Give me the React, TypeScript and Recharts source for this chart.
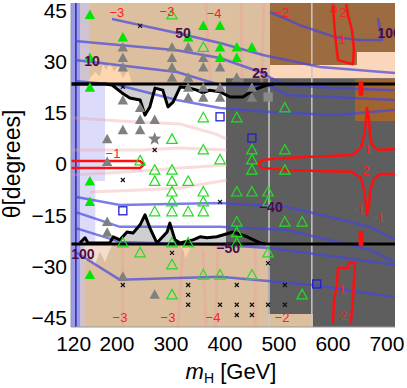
import React from 'react'
import { ComposedChart, XAxis, YAxis, Line, Area, Scatter } from 'recharts'

const FONT = '"Liberation Sans", Arial, sans-serif'

type P = [number, number]
type Rect = [number, number, number, number] // m1, m2, θ1, θ2

const massTicks = [120, 200, 300, 400, 500, 600, 700]
const angleTicks = [-45, -30, -15, 0, 15, 30, 45]

// shaded regions
const tanRegions: Rect[] = [[131.7, 402, 23.4, 47.1], [402, 483.5, 25.1, 47.1], [131.7, 480, -47.7, -23.4], [480, 563, -47.7, -43.9]]
const brownRegions: Rect[] = [[483.5, 644.6, 28.9, 47.1], [644.6, 715, 32.7, 47.1]]
const peachRegions: Rect[] = [[483.5, 644.6, 24.9, 28.9], [644.6, 715, 24.9, 32.7]]
const grayRegions: Rect[] = [[402, 715, -23.4, 25.1], [480, 715, -43.9, -23.4], [563, 715, -47.7, -43.9]]
const orangeRegions: Rect[] = [[641, 715, 12.6, 24.9]]
const lavenderStrong: Rect[] = [[115, 131.7, -47.7, 47.1]]
const lavenderSoft: Rect[] = [[131.7, 178, -5, 23.4], [131.7, 160, -23.4, -5], [131.7, 150, 23.4, 47.1], [131.7, 140, -47.7, -23.4]]

// wiggly exclusion boundaries
const upperWiggle: P[] = [[115, 23.4], [178, 23.4], [191, 23.1], [209.5, 20.8], [224, 19.3], [243, 18.7], [252, 14.3], [261, 16.7], [270.6, 22.2], [285, 21.6], [294.6, 16.7], [304, 18.1], [317, 22.5], [335, 22.2], [348, 21.6], [359.5, 20.8], [372, 21.6], [391, 21.1], [409.5, 19.6], [433.5, 19.6], [452, 21.6], [478, 23.1], [490, 23.4]]
const lowerWiggle: P[] = [[131.7, -23.1], [141, -21.6], [146.5, -23.1], [187, -23.1], [193, -21.3], [205.7, -22.2], [218.7, -19.9], [230, -20.2], [243, -17.8], [252, -14.9], [261, -18.7], [274, -23.1], [293, -19.9], [298, -17.3], [307.6, -22.2], [317, -23.1], [341, -22.2], [354, -21.3], [367, -21.6], [385, -21.3], [415, -19.9], [441, -21.3], [465, -23.1], [475, -23.4]]
const upperLimit: P[] = [[115, 23.4], [715, 23.4]]
const lowerLimit: P[] = [[115, -23.4], [715, -23.4]]

const peachSpikesTop: P[] = [[141, 23.4], [150, 25.1], [159.4, 26.9], [168.7, 25.7], [174, 29.2], [180, 27.5], [187, 29.8], [194.6, 26.9], [202, 28.7], [211, 25.1], [220.6, 27.5], [228, 23.4]]
const paleSpikesBottom: P[] = [[135.4, -23.4], [141, -28.7], [150, -26.6], [159.4, -29.5], [168.7, -25.7], [178, -28.7], [187, -25.1], [193, -23.4]]
const peachNotch: P[] = [[317, -23.4], [328, -27.5], [339, -23.4]]

// faint contours
const pinkContours: P[][] = [
  [[115, 13.5], [205.7, 12.6], [317, 11.7], [382, 8.8], [404, 7.3]],
  [[115, 4.1], [243, 4.1], [317, 4.7], [404, 4.1]],
  [[115, -3.2], [224, -2.3], [317, -1.2], [404, -0.3]],
  [[150, -8.2], [243, -7.6], [317, -7], [404, -4.7]],
  [[365, 47.1], [368, 36], [374, 23.4]],
  [[430, 47.1], [432, 23.4]],
  [[472, 47.1], [468, 23.4]],
  [[211, -23.4], [211, -47.7]],
  [[322, -25.1], [313, -47.7]],
  [[359.5, -25.1], [365, -47.7]],
  [[387, -23.4], [383, -47.7]],
  [[456, -23.4], [456, -47.7]]
]

// coupling contours (blue)
const blueContours: P[][] = [
  [[483.5, 44.4], [539, 40.6], [604, 37.1], [650, 36.3], [691, 36.3], [683.5, 42.7]],
  [[191, 42.4], [311, 38.3], [391, 35.4], [470.6, 31.9], [576, 28.4], [715, 26.6]],
  [[122.4, 36], [311, 33.3], [391, 31], [465, 26.9], [511, 23.1], [598, 22.2], [715, 21.6]],
  [[122.4, 30.4], [311, 26.9], [391, 23.1], [483.5, 22.8], [515, 20.2], [715, 18.7]],
  [[122.4, 24.3], [202, 23.1], [311, 18.7], [391, 16.4], [483.5, 15.2], [604, 14.3], [715, 15.8]],
  [[122.4, -9.6], [205.7, -12], [391, -11.4], [515, -12.6], [594.7, -15.5], [668.7, -18.4], [715, -22.2]],
  [[122.4, -14], [205.7, -18.4], [391, -18.4], [515, -19.3], [668.7, -25.1], [715, -28.7]],
  [[122.4, -18.7], [205.7, -22.8], [391, -23.7], [483.5, -24.6], [715, -29.5]],
  [[122.4, -25.7], [205.7, -33.9], [391, -33], [563, -35.4], [715, -38.9]]
]

// red contours
const redContours: P[][] = [
  [[115, 0.9], [242.8, 0.9], [250, -0.15], [242.8, -1.2], [115, -1.2]],
  [[715, 4.4], [683.6, 4.1], [672.4, 5.6], [668.7, 8.5], [667, 12.9], [663, 16.4], [661.3, 12.9], [657.6, 8.5], [652, 4.7], [635.4, 2.6], [520.6, 1.8], [468.7, 1.2], [461.3, 0], [468.7, -1.2], [520.6, -1.8], [635.4, -2.3], [652, -4.1], [657.6, -7.6], [661.3, -12], [663, -14.9], [667, -12], [668.7, -8.2], [674.3, -4.7], [687, -2.9], [715, -2.9]],
  [[600, -46.8], [602, -39.8], [607.6, -35.4], [609.5, -30.4], [628, -30.4], [631.7, -28.7], [641, -28.9], [639, -33.9], [637, -39.8], [633, -46.8]],
  [[600, 46.8], [602, 42.1], [604, 37.7], [609.5, 30.4], [622.5, 29.8], [637, 29.2], [639, 33.3], [635.4, 39.2], [628, 43.6], [624.4, 46.8]]
]
const redBlobs: P[][] = [[[652, 23.4], [652, 20.6]], [[652, -20.3], [652, -23.4]]]
const whiteLines: P[][] = [[[481.7, 25.1], [481.7, -47.7]], [[561, 47.1], [561, -47.7]]]
const blueEdge: P[] = [[124, 47.1], [124, -47.7]]

// benchmark points
const filledGreen: P[] = [[150, 43.6], [211, 37], [150, 31], [150, 22.3], [332, 37], [360, 40.4], [391, 40.4], [391, 34.1], [422, 34.1], [450, 34.1], [391, 31], [422, 31], [150, -5.1], [150, -11.1], [150, -32.5]]
const grayFilled: P[] = [[211, 34.1], [211, 31], [211, 28.2], [302, 34.1], [302, 31], [302, 28.2], [302, 25.2], [332, 34.1], [332, 25.2], [332, 22.3], [332, 19.4], [360, 31], [360, 28.2], [360, 22.3], [360, 19.4], [391, 28.2], [391, 22.3], [391, 19.4], [422, 25.2], [450, 22.3], [450, 19.4], [211, 18.6], [243, 16.4], [243, 12.9], [270, 12.9], [211, 9.9], [243, 9.9], [182, 7.2], [182, 0.6], [182, -17], [182, -20.1], [211, -33], [270, -38.3]]
const openGreen: P[] = [[302, 43.6], [360, 34.1], [511, 16.4], [422, 13.5], [360, 13.5], [302, 7.2], [243, 0.9], [360, 4.1], [391, 1.2], [450, 4.1], [450, 1.2], [450, -1.8], [511, 4.1], [511, -1.8], [270, -1.8], [302, -1.8], [270, -5.1], [302, -5.1], [332, -5.1], [302, -8.2], [360, -8.2], [422, -8.2], [450, -8.2], [480, -8.2], [480, -11.1], [302, -11.1], [360, -11.1], [270, -14], [302, -14], [332, -14], [360, -14], [422, -17], [511, -17], [543, -17], [422, -20.1], [211, -23.1], [302, -23.1], [332, -23.1], [422, -23.1], [243, -26], [480, -26], [302, -29.5], [360, -32.5], [391, -32.5], [450, -32.5], [302, -38.3], [543, -38.3]]
const crosses: P[] = [[243, 40.4], [211, 22.6], [270, 4.1], [211, -4.7], [391, -11.1], [302, -26], [480, -29], [211, -35.4], [332, -35.4], [422, -35.4], [511, -35.4], [332, -38.3], [332, -41.2], [391, -41.2], [422, -41.2], [450, -41.2], [480, -41.2], [511, -41.2], [422, -44.2], [450, -44.2]]
const blueSquares: P[] = [[391, 13.8], [450, 7.6], [211, -13.7], [570, -35.1]]
const graySquares: P[] = [[480, 19.6]]
const grayStars: P[] = [[270, 7.3]]

// contour labels
const redLabels: [number, number, string][] = [[200, 44.4, '−3'], [292.8, 44.7, '−3'], [380, 44.1, '−4'], [506, 44.4, '−2'], [602, 45.3, '0'], [618.7, 44.4, '2'], [617, 36.3, '1'], [192.8, 3.2, '−1'], [665, 4.1, '1'], [661, -2, '2'], [644.6, -13.2, '−1'], [681.7, -15.8, '−1'], [617, -36.6, '1'], [618.7, -44.4, '2'], [205.7, -45, '−3'], [294.6, -45, '−3'], [378, -45, '−4'], [506, -45, '−2']]
const purpleLabels: [number, number, string][] = [[322.4, 38.3, '50'], [465, 26.6, '25'], [154, 30.1, '10'], [704, 38.3, '100'], [137, -26.3, '100'], [485, -12.6, '−40'], [406, -24.6, '−50']]

const pts = (a: P[]) => a.map(([x, y]) => ({ x, y }))
const band = (a: P[], base: number) => a.map(([x, y]) => ({ x, r: [Math.min(base, y), Math.max(base, y)] }))
const rectData = ([x1, x2, y1, y2]: Rect) => [{ x: x1, r: [y1, y2] }, { x: x2, r: [y1, y2] }]
const labelData = (a: [number, number, string][]) => a.map(([x, y, t]) => ({ x, y, t }))

const fillArea = (key: string, data: any[], color: string, opacity = 1) => (
  <Area key={key} data={data} dataKey="r" type="linear" fill={color} fillOpacity={opacity} stroke="none" dot={false} activeDot={false} isAnimationActive={false} />
)
const line = (key: string, data: P[], color: string, width: number, opacity = 1, cap: 'round' | 'butt' = 'butt') => (
  <Line key={key} data={pts(data)} dataKey="y" type="linear" stroke={color} strokeWidth={width} strokeOpacity={opacity} strokeLinecap={cap} dot={false} activeDot={false} isAnimationActive={false} strokeLinejoin="round" />
)

const triangle = (fill: string, stroke: string) => (p: any) => (
  <polygon points={`${p.cx},${p.cy - 5.5} ${p.cx + 5.2},${p.cy + 4} ${p.cx - 5.2},${p.cy + 4}`} fill={fill} stroke={stroke} strokeWidth={1.2} />
)
const cross = (p: any) => (
  <path d={`M${p.cx - 2},${p.cy - 2}L${p.cx + 2},${p.cy + 2}M${p.cx + 2},${p.cy - 2}L${p.cx - 2},${p.cy + 2}`} stroke="#111" strokeWidth={1.2} />
)
const square = (color: string, fill: string) => (p: any) => (
  <rect x={p.cx - 4} y={p.cy - 4} width={8} height={8} fill={fill} stroke={color} strokeWidth={1.3} />
)
const star = (p: any) => {
  const s: string[] = []
  for (let i = 0; i < 10; i++) {
    const r = i % 2 === 0 ? 7 : 3
    const a = -Math.PI / 2 + (i * Math.PI) / 5
    s.push(`${p.cx + r * Math.cos(a)},${p.cy + r * Math.sin(a)}`)
  }
  return <polygon points={s.join(' ')} fill="#808080" />
}
const textShape = (color: string, size: number, weight: number) => (p: any) => (
  <text x={p.cx} y={p.cy} fill={color} fontSize={size} fontWeight={weight} fontFamily={FONT} textAnchor="middle" dominantBaseline="central">{p.payload.t}</text>
)

const fmt = (v: number) => (v < 0 ? `−${-v}` : `${v}`)

export default function App() {
  return (
    <div style={{ position: 'fixed', left: 0, top: 0, background: '#fff' }}>
      <ComposedChart width={407} height={388} margin={{ top: 3, right: 12, bottom: 31, left: 0 }} style={{ fontFamily: FONT }}>
        <XAxis dataKey="x" type="number" domain={[115, 715]} ticks={massTicks} allowDataOverflow interval={0}
          tickLine={false} tickSize={0} tickMargin={9} axisLine={{ stroke: '#999' }} height={30}
          tick={{ fill: '#000', fontSize: 21, fontFamily: FONT }} />
        <YAxis dataKey="y" type="number" domain={[-47.7, 47.1]} ticks={angleTicks} allowDataOverflow interval={0}
          tickLine={false} tickSize={0} tickMargin={4} axisLine={{ stroke: '#999' }} width={71}
          tickFormatter={fmt} tick={{ fill: '#000', fontSize: 21, fontFamily: FONT }} />

        {tanRegions.map((r, i) => fillArea(`tan${i}`, rectData(r), '#dcbf9f'))}
        {brownRegions.map((r, i) => fillArea(`br${i}`, rectData(r), '#9c6b3f'))}
        {peachRegions.map((r, i) => fillArea(`pe${i}`, rectData(r), '#fbd6bb'))}
        {fillArea('wigU', band(upperWiggle, 23.4), '#cfcfcf')}
        {fillArea('wigL', band(lowerWiggle, -23.4), '#cfcfcf')}
        {fillArea('spT', band(peachSpikesTop, 23.4), '#ffd6ae')}
        {fillArea('spB', band(paleSpikesBottom, -23.4), '#f2dccb')}
        {fillArea('notch', band(peachNotch, -23.4), '#ffd0a8')}
        {grayRegions.map((r, i) => fillArea(`gr${i}`, rectData(r), '#5e5e5e'))}
        {orangeRegions.map((r, i) => fillArea(`or${i}`, rectData(r), '#a0642e'))}
        {lavenderStrong.map((r, i) => fillArea(`lvS${i}`, rectData(r), '#8a8ae6', 0.85))}
        {lavenderSoft.map((r, i) => fillArea(`lv${i}`, rectData(r), '#c4c4f6', 0.6))}

        {whiteLines.map((l, i) => line(`wl${i}`, l, '#c8c8c8', 1.5))}
        {line('edge', blueEdge, '#2a2aa8', 1.5)}
        {pinkContours.map((l, i) => line(`pk${i}`, l, '#f09c9c', 3, 0.35))}
        {blueContours.map((l, i) => line(`bl${i}`, l, '#4646de', 2.5, 0.7))}
        {line('limU', upperLimit, '#000', 3)}
        {line('limL', lowerLimit, '#000', 3)}
        {line('wigUl', upperWiggle, '#000', 3)}
        {line('wigLl', lowerWiggle, '#000', 3)}
        {redContours.map((l, i) => line(`rd${i}`, l, '#ff1010', 2.5))}
        {redBlobs.map((l, i) => line(`rb${i}`, l, '#ff1010', 5, 1, 'round'))}

        <Scatter data={pts(grayFilled)} shape={triangle('#808080', 'none')} isAnimationActive={false} />
        <Scatter data={pts(filledGreen)} shape={triangle('#00e400', 'none')} isAnimationActive={false} />
        <Scatter data={pts(openGreen)} shape={triangle('none', '#22dd22')} isAnimationActive={false} />
        <Scatter data={pts(crosses)} shape={cross} isAnimationActive={false} />
        <Scatter data={pts(blueSquares)} shape={square('#2020cc', 'none')} isAnimationActive={false} />
        <Scatter data={pts(graySquares)} shape={square('#8a8a8a', '#8a8a8a')} isAnimationActive={false} />
        <Scatter data={pts(grayStars)} shape={star} isAnimationActive={false} />
        <Scatter data={labelData(redLabels)} shape={textShape('#ff2020', 13, 400)} isAnimationActive={false} />
        <Scatter data={labelData(purpleLabels)} shape={textShape('#4a0c4a', 14, 700)} isAnimationActive={false} />

        <text x={231} y={379} textAnchor="middle" fontSize={22} fontFamily={FONT} fill="#000">
          <tspan fontStyle="italic">m</tspan>
          <tspan fontSize={14} dy={4}>H</tspan>
          <tspan dy={-4}> [GeV]</tspan>
        </text>
        <text x={0} y={0} transform="translate(20,164) rotate(-90)" textAnchor="middle" fontSize={23} fontFamily={FONT} fill="#000">θ[degrees]</text>
      </ComposedChart>
    </div>
  )
}
